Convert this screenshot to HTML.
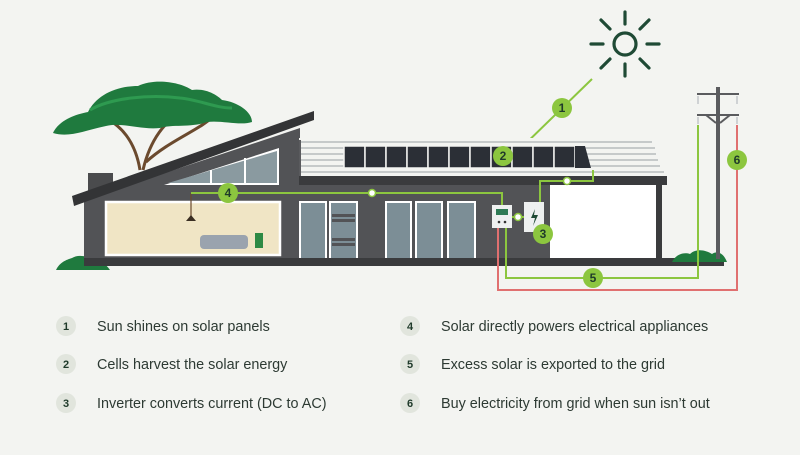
<!DOCTYPE html>
<html><head><meta charset="utf-8"><style>
html,body{margin:0;padding:0;background:#f3f4f1;}
svg{display:block}
text{font-family:"Liberation Sans",sans-serif;}
</style></head><body>
<svg width="800" height="455" viewBox="0 0 800 455" xmlns="http://www.w3.org/2000/svg">
<rect width="800" height="455" fill="#f3f4f1"/>
<!-- sun -->
<g stroke="#1f4a35" stroke-width="3.2" stroke-linecap="round" fill="none">
<circle cx="625" cy="44" r="11"/>
<line x1="625" y1="12" x2="625" y2="24"/><line x1="625" y1="64" x2="625" y2="76"/>
<line x1="591" y1="44" x2="603" y2="44"/><line x1="647" y1="44" x2="659" y2="44"/>
<line x1="601" y1="20" x2="610" y2="29"/><line x1="640" y1="59" x2="649" y2="68"/>
<line x1="649" y1="20" x2="640" y2="29"/><line x1="610" y1="59" x2="601" y2="68"/>
</g>
<line x1="592" y1="79" x2="517" y2="152" stroke="#8cc63f" stroke-width="2"/>
<!-- tree -->
<g stroke="#6b4a2e" stroke-width="3" fill="none">
<path d="M140 170 C135 140 120 125 105 118"/><path d="M143 170 C150 140 165 120 185 110"/><path d="M146 162 C170 140 200 130 215 115"/>
</g>
<path d="M53 133 C58 122 72 115 88 112 C96 96 115 86 138 86 C155 78 180 82 192 90 C207 88 218 96 222 100 C238 102 252 112 252 122 C240 126 222 120 207 122 C190 128 172 124 160 128 C140 130 122 122 106 126 C86 130 70 138 53 133Z" fill="#1f7a3e"/>
<path d="M90 110 C110 98 150 94 180 98 C200 100 215 108 232 108" stroke="#2e9a50" stroke-width="3" fill="none"/>
<!-- left bush -->
<path d="M56 270 C60 262 66 260 72 258 C78 254 88 256 92 260 C100 260 106 264 110 270Z" fill="#1f7a3e"/>
<!-- chimney -->
<rect x="88" y="173" width="25" height="20" fill="#4a4b4d"/>
<!-- left wall -->
<polygon points="84,200 300,128 300,262 84,262" fill="#525356"/>
<!-- right upper section -->
<rect x="299" y="138" width="366" height="38" fill="#f3f4f1"/>
<g stroke="#b8bbbe" stroke-width="1.5">
<line x1="299" y1="142" x2="652" y2="142"/><line x1="299" y1="148" x2="655" y2="148"/>
<line x1="299" y1="154" x2="656" y2="154"/><line x1="299" y1="160" x2="658" y2="160"/>
<line x1="299" y1="166" x2="660" y2="166"/><line x1="299" y1="172" x2="664" y2="172"/>
</g>
<rect x="299" y="140" width="2" height="40" fill="#5a5b5e"/>
<!-- panels -->
<g fill="#2b2f36" stroke="#f3f4f1" stroke-width="1.5">
<rect x="344" y="146" width="21" height="22"/><rect x="365" y="146" width="21" height="22"/><rect x="386" y="146" width="21" height="22"/>
<rect x="407" y="146" width="21" height="22"/><rect x="428" y="146" width="21" height="22"/><rect x="449" y="146" width="21" height="22"/>
<rect x="470" y="146" width="21" height="22"/><rect x="491" y="146" width="21" height="22"/><rect x="512" y="146" width="21" height="22"/>
<rect x="533" y="146" width="21" height="22"/><rect x="554" y="146" width="21" height="22"/>
</g>
<polygon points="575,146 585,146 591,168 575,168" fill="#2b2f36"/>
<!-- right body -->
<rect x="299" y="176" width="368" height="9" fill="#3a3b3d"/>
<rect x="299" y="185" width="251" height="77" fill="#525356"/>
<rect x="550" y="185" width="107" height="77" fill="#ffffff"/>
<rect x="656" y="185" width="6" height="77" fill="#3a3b3d"/>
<!-- main roof -->
<polygon points="72,196 314,111 314,120 74,206" fill="#333436"/>
<!-- clerestory -->
<polygon points="164,185 279,148 279,185" fill="#ffffff"/>
<polygon points="168,183 277,151 277,183" fill="#8a9aa0"/>
<g stroke="#ffffff" stroke-width="2"><line x1="211" y1="170" x2="211" y2="184"/><line x1="245" y1="158" x2="245" y2="184"/></g>
<!-- room -->
<rect x="106" y="202" width="174" height="53" fill="#f0e5c5" stroke="#ffffff" stroke-width="2.5"/>
<rect x="200" y="235" width="48" height="14" rx="4" fill="#9aa3ae"/>
<rect x="255" y="233" width="8" height="15" fill="#2e8a45"/>
<path d="M191 193 V217" stroke="#6b4a2e" stroke-width="1.2"/><path d="M186 221 L191 215 L196 221Z" fill="#3a2e22"/>
<!-- doors/windows -->
<g fill="#7c8e96" stroke="#ffffff" stroke-width="2">
<rect x="300" y="202" width="26" height="58"/><rect x="330" y="202" width="27" height="58"/>
<rect x="386" y="202" width="25" height="58"/><rect x="416" y="202" width="26" height="58"/><rect x="448" y="202" width="27" height="58"/>
</g>
<g fill="#525356"><rect x="332" y="214" width="23" height="3"/><rect x="332" y="219" width="23" height="3"/><rect x="332" y="238" width="23" height="3"/><rect x="332" y="243" width="23" height="3"/></g>
<!-- ground -->
<rect x="84" y="258" width="640" height="8" fill="#3a3b3d"/>
<path d="M672 262 C676 254 684 252 690 254 C696 248 706 250 712 254 C718 250 724 254 727 262Z" fill="#1f7a3e"/>
<!-- pole -->
<rect x="716" y="87" width="4" height="172" fill="#5a5b5e"/>
<g stroke="#5a5b5e" stroke-width="2"><line x1="697" y1="94" x2="739" y2="94"/><line x1="697" y1="115" x2="739" y2="115"/><line x1="706" y1="115" x2="716" y2="123"/><line x1="730" y1="115" x2="720" y2="123"/></g>
<g stroke="#cfd2d4" stroke-width="2"><line x1="698" y1="96" x2="698" y2="104"/><line x1="737" y1="96" x2="737" y2="104"/><line x1="698" y1="117" x2="698" y2="124"/><line x1="737" y1="117" x2="737" y2="124"/></g>
<!-- wires -->
<g fill="none" stroke-width="2">
<polyline points="191,193 502,193 502,206" stroke="#8cc63f"/>
<polyline points="540,206 540,181 593,181 593,170" stroke="#8cc63f"/>
<polyline points="698,125 698,278 506,278 506,228" stroke="#8cc63f"/>
<polyline points="737,125 737,290 498,290 498,228" stroke="#e07070"/>
<line x1="512" y1="217" x2="524" y2="217" stroke="#8cc63f"/>
</g>
<circle cx="372" cy="193" r="3.5" fill="#fff" stroke="#8cc63f" stroke-width="1.5"/>
<circle cx="567" cy="181" r="3.5" fill="#fff" stroke="#8cc63f" stroke-width="1.5"/>
<circle cx="518" cy="217" r="3.5" fill="#fff" stroke="#8cc63f" stroke-width="1.5"/>
<!-- meter, inverter -->
<rect x="492" y="205" width="20" height="23" fill="#eef0f0"/><rect x="496" y="209" width="12" height="6" fill="#2e7a55"/>
<circle cx="499" cy="222" r="1.3" fill="#333"/><circle cx="505" cy="222" r="1.3" fill="#333"/>
<rect x="524" y="202" width="20" height="30" fill="#eef0f0"/>
<path d="M535 209 L531 218 L535 218 L533 226 L538 215 L534 215Z" fill="#1f4a35"/>
<!-- number bubbles -->
<g font-size="12" font-weight="bold" fill="#1f3a2a" text-anchor="middle">
<circle cx="562" cy="108" r="10" fill="#8cc63f"/><text x="562" y="112">1</text>
<circle cx="503" cy="156" r="10" fill="#8cc63f"/><text x="503" y="160">2</text>
<circle cx="543" cy="234" r="10" fill="#8cc63f"/><text x="543" y="238">3</text>
<circle cx="228" cy="193" r="10" fill="#8cc63f"/><text x="228" y="197">4</text>
<circle cx="593" cy="278" r="10" fill="#8cc63f"/><text x="593" y="282">5</text>
<circle cx="737" cy="160" r="10" fill="#8cc63f"/><text x="737" y="164">6</text>
</g>
<!-- legend -->
<g font-size="11" font-weight="bold" fill="#1f3a2a" text-anchor="middle">
<circle cx="66" cy="326" r="10" fill="#e1e5dd"/><text x="66" y="330">1</text>
<circle cx="66" cy="364" r="10" fill="#e1e5dd"/><text x="66" y="368">2</text>
<circle cx="66" cy="403" r="10" fill="#e1e5dd"/><text x="66" y="407">3</text>
<circle cx="410" cy="326" r="10" fill="#e1e5dd"/><text x="410" y="330">4</text>
<circle cx="410" cy="364" r="10" fill="#e1e5dd"/><text x="410" y="368">5</text>
<circle cx="410" cy="403" r="10" fill="#e1e5dd"/><text x="410" y="407">6</text>
</g>
<g font-size="14.4" fill="#2d3a33">
<text x="97" y="331">Sun shines on solar panels</text>
<text x="97" y="369">Cells harvest the solar energy</text>
<text x="97" y="408">Inverter converts current (DC to AC)</text>
<text x="441" y="331">Solar directly powers electrical appliances</text>
<text x="441" y="369">Excess solar is exported to the grid</text>
<text x="441" y="408">Buy electricity from grid when sun isn’t out</text>
</g>
</svg>
</body></html>
